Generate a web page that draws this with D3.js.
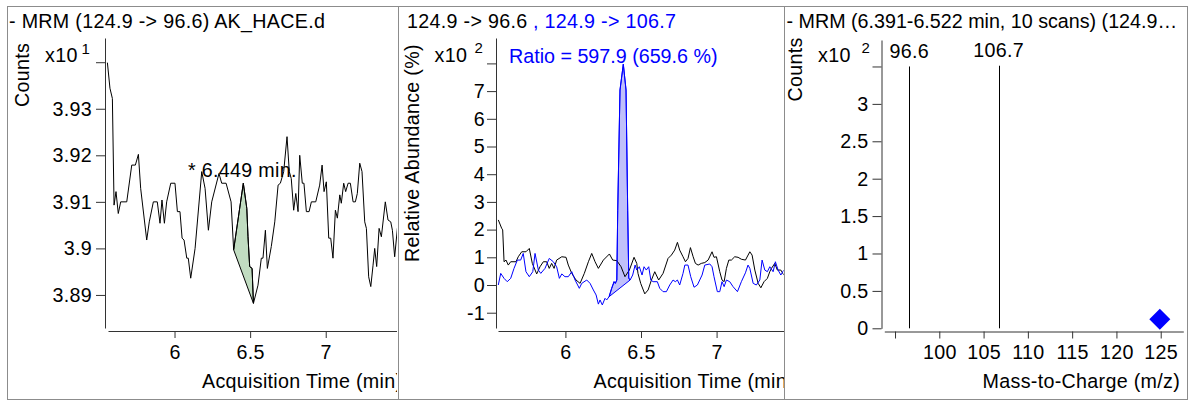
<!DOCTYPE html>
<html><head><meta charset="utf-8">
<script src="https://cdn.jsdelivr.net/npm/d3@7"></script>
<style>
body{margin:0;background:#fff;}
svg text{font-family:"Liberation Sans",Arial,sans-serif;font-size:19.7px;fill:#000;letter-spacing:0.3px;}
svg text.nols{letter-spacing:0;}
</style></head>
<body><svg id="c" width="1193" height="401"></svg>
<script>
// ---------- DATA ----------
// Panel 1: MRM chromatogram (124.9 -> 96.6), counts x10^1
const p1Time = [5.556,5.573,5.589,5.600,5.613,5.628,5.644,5.684,5.717,5.741,5.761,5.776,5.816,5.833,5.860,5.886,5.904,5.917,5.933,5.948,
  5.975,6.003,6.019,6.036,6.050,6.063,6.081,6.091,6.107,6.136,6.180,6.202,6.224,6.246,6.294,6.312,6.341,6.374,6.391,6.455,
  6.478,6.486,6.497,6.513,6.522,6.552,6.574,6.585,6.601,6.614,6.640,6.663,6.685,6.700,6.722,6.744,6.759,6.772,6.788,6.802,
  6.817,6.828,6.845,6.856,6.872,6.890,6.905,6.934,6.960,6.976,6.989,7.004,7.020,7.033,7.048,7.064,7.077,7.093,7.103,7.119,
  7.132,7.148,7.163,7.181,7.196,7.209,7.225,7.240,7.258,7.269,7.284,7.298,7.313,7.324,7.337,7.353,7.368,7.394,7.412,7.430,
  7.441,7.456,7.474,7.490];
const p1Counts = [3.9399,3.9344,3.9322,3.9093,3.9122,3.9075,3.9100,3.9100,3.9179,3.9179,3.9202,3.9129,3.9018,3.9057,3.9100,3.9100,3.9054,3.9104,3.9054,3.9100,
  3.9140,3.9140,3.9079,3.9079,3.9022,3.9018,3.8979,3.8979,3.8936,3.9000,3.9165,3.9129,3.9039,3.9100,3.9161,3.9140,3.9140,3.9100,3.8997,3.9140,
  3.9086,3.9025,3.8961,3.8957,3.8882,3.8921,3.8979,3.8979,3.9039,3.8957,3.9004,3.9057,3.9136,3.9140,3.9165,3.9240,3.9165,3.9150,3.9082,3.9118,
  3.9079,3.9200,3.9140,3.9140,3.9079,3.9079,3.9100,3.9100,3.9136,3.9179,3.9122,3.9143,3.9022,3.9022,3.8979,3.9082,3.9065,3.9115,3.9097,3.9140,
  3.9122,3.9140,3.9140,3.9100,3.9100,3.9118,3.9183,3.9165,3.9057,3.9043,3.8939,3.8918,3.8964,3.9000,3.8961,3.9043,3.9025,3.9100,3.9061,3.9057,
  3.9039,3.8982,3.9043,3.9070];
const p1Peak = [6.391, 6.522];
const p1PeakLabel = "* 6.449 min.";
const p1PeakTime = 6.449;
const p1YTicks = [3.89,3.90,3.91,3.92,3.93,3.94];
const p1YLabels = ["3.89","3.9","3.91","3.92","3.93",""];
const timeTicks = [6,6.5,7];
const timeLabels = ["6","6.5","7"];

// Panel 2: overlay, relative abundance (%) x10^2
const p2QuantTime = [5.556,5.578,5.585,5.594,5.607,5.622,5.638,5.673,5.688,5.711,5.739,5.761,5.781,5.810,5.832,5.854,5.876,5.893,5.909,5.925,
  5.942,5.976,6.004,6.019,6.042,6.070,6.097,6.125,6.152,6.174,6.196,6.218,6.251,6.291,6.313,6.340,6.368,6.394,6.423,6.454,
  6.472,6.480,6.498,6.525,6.547,6.569,6.591,6.617,6.646,6.679,6.701,6.723,6.741,6.756,6.778,6.794,6.811,6.827,6.845,6.860,
  6.878,6.899,6.922,6.944,6.970,6.983,6.999,7.021,7.036,7.050,7.065,7.081,7.098,7.120,7.142,7.164,7.191,7.220,7.235,7.253,
  7.275,7.293,7.314,7.336,7.352,7.363,7.385,7.402,7.425,7.445,7.460];
const p2Quant = [2.35,2.05,1.99,0.84,0.90,0.72,0.84,0.84,1.02,1.20,1.20,1.32,0.78,0.40,0.66,0.84,0.84,0.60,0.78,0.60,
  0.90,1.02,1.00,0.72,0.42,0.18,0.06,0.42,0.84,1.14,0.84,0.60,0.90,1.12,0.90,0.88,0.66,0.30,0.54,1.00,
  0.78,0.42,0.06,-0.32,-0.18,0.18,0.48,0.18,0.42,0.96,1.08,1.26,1.54,1.26,1.02,0.84,0.96,1.35,1.02,0.78,
  0.72,0.78,0.81,0.90,1.20,1.00,1.02,0.48,0.18,0.12,0.60,0.90,0.90,1.02,1.00,0.93,0.90,1.20,1.08,0.54,
  0.06,-0.10,0.12,0.24,0.48,0.60,0.78,0.54,0.54,0.36,0.30];
const p2QualTime = [5.556,5.572,5.594,5.615,5.638,5.660,5.682,5.704,5.721,5.739,5.761,5.784,5.799,5.821,5.837,5.865,5.893,5.920,5.942,5.960,
  5.976,5.997,6.019,6.042,6.064,6.092,6.108,6.141,6.163,6.185,6.203,6.218,6.229,6.244,6.262,6.273,6.289,6.306,6.322,6.330,
  6.340,6.346,6.361,6.383,6.401,6.412,6.419,6.428,6.445,6.461,6.472,6.489,6.507,6.520,6.535,6.551,6.565,6.580,6.608,6.624,
  6.646,6.668,6.690,6.712,6.727,6.741,6.756,6.778,6.790,6.811,6.829,6.851,6.873,6.904,6.922,6.955,6.970,6.983,7.005,7.021,
  7.036,7.050,7.065,7.087,7.109,7.138,7.164,7.191,7.208,7.220,7.242,7.263,7.286,7.301,7.319,7.336,7.352,7.374,7.389,7.407,
  7.425,7.445,7.460];
const p2Qual = [0.00,0.42,0.24,0.12,0.24,0.60,0.90,0.90,1.14,0.48,0.30,0.48,1.14,0.54,0.42,0.60,0.96,0.84,0.66,0.24,
  0.40,0.30,0.30,0.48,0.18,-0.12,0.06,0.18,0.06,-0.18,-0.36,-0.69,-0.54,-0.72,-0.48,-0.54,-0.42,-0.12,0.12,0.06,
  0.18,2.70,7.04,7.97,7.04,2.70,0.25,0.18,0.36,0.72,0.54,0.66,0.36,0.66,0.54,0.66,0.18,0.12,0.12,-0.12,
  -0.24,-0.24,0.00,0.18,0.12,0.18,0.00,0.42,0.72,0.72,0.30,-0.08,0.00,0.36,0.72,0.76,0.66,0.30,-0.24,-0.24,
  0.12,-0.06,0.18,0.12,-0.06,-0.24,0.12,0.44,0.72,0.60,0.06,0.00,0.18,0.90,0.54,0.48,0.66,0.48,0.84,0.54,
  0.36,0.54,0.45];
const p2Peak = [6.289, 6.428];
const p2RatioLabel = "Ratio = 597.9 (659.6 %)";
const p2YTicks = [-1,0,1,2,3,4,5,6,7,8];
const p2YLabels = ["-1","0","1","2","3","4","5","6","7",""];

// Panel 3: MRM spectrum, counts x10^2
const msMz = [96.6, 106.7];
const msCounts = [3.50, 3.51];
const msLabels = ["96.6", "106.7"];
const precursorMz = [124.9];
const precursorCounts = [0.12];
const p3XTicks = [95,100,105,110,115,120,125];
const p3XLabels = ["","100","105","110","115","120","125"];
const p3YTicks = [0,0.5,1,1.5,2,2.5,3,3.5];
const p3YLabels = ["0","0.5","1","1.5","2","2.5","3",""];

// ---------- DRAW ----------
const svg = d3.select("#c");
const defs = svg.append("defs");
const AX = "#333";
const BLUE = "#0000ff";

function clip(id, x, y, w, h){
  defs.append("clipPath").attr("id", id).append("rect").attr("x", x).attr("y", y).attr("width", w).attr("height", h);
  return `url(#${id})`;
}
const boxes = [[7.5,6.5,391,393],[398.5,6.5,386,393],[784.5,6.5,403,393]];
clip("pc0", 8, 7, 389, 392);
clip("pc1", 399, 7, 385, 392);
clip("pc2", 785, 7, 402, 392);

function styleAxis(g){
  g.selectAll("path.domain").attr("stroke", AX);
  g.selectAll(".tick line").attr("stroke", AX);
  g.selectAll(".tick text").attr("fill", "#000");
}
function yAxis(g, y, ax, ticks, labels, pad){
  g.append("g").attr("transform", `translate(${ax},0)`)
    .call(d3.axisLeft(y).tickValues(ticks).tickFormat((d,i)=>labels[i]).tickSize(9).tickSizeOuter(0).tickPadding(pad))
    .call(styleAxis);
}
function xAxis(g, x, ay, ticks, labels){
  g.append("g").attr("transform", `translate(0,${ay})`)
    .call(d3.axisBottom(x).tickValues(ticks).tickFormat((d,i)=>labels[i]).tickSize(7).tickSizeOuter(0).tickPadding(7))
    .call(styleAxis);
}
function mult(g, x, y, sx, sy, sup){
  g.append("text").attr("x", x).attr("y", y).text("x10");
  g.append("text").attr("x", sx).attr("y", sy).style("font-size","15px").text(sup);
}
function peakArea(times, vals, range){
  const pts = [];
  times.forEach((t,i)=>{ if (t >= range[0]-1e-9 && t <= range[1]+1e-9) pts.push([t, vals[i]]); });
  return pts;
}

// ---- Panel 1 ----
{
  const g = svg.append("g").attr("clip-path", "url(#pc0)");
  const x = d3.scaleLinear().domain([5.56, 7.48]).range([108, 398.3]);
  const y = d3.scaleLinear().domain([3.8829, 3.9452]).range([328, 38]);
  const pclip = clip("pl0", 104, 36, 293.5, 296);
  g.append("text").attr("x", 9).attr("y", 28).text("- MRM (124.9 -> 96.6) AK_HACE.d");
  g.append("text").attr("transform", "translate(28.5,107) rotate(-90)").text("Counts");
  mult(g, 45, 61.5, 81.5, 53.5, "1");
  yAxis(g, y, 105, p1YTicks, p1YLabels, 4);
  xAxis(g, x, 331, timeTicks, timeLabels);
  g.append("text").attr("x", 202).attr("y", 388).text("Acquisition Time (min)");
  const pl = g.append("g").attr("clip-path", pclip);
  const area = peakArea(p1Time, p1Counts, p1Peak);
  pl.append("path").attr("d", d3.line().x(d=>x(d[0])).y(d=>y(d[1]))(area) + "Z")
    .attr("fill", "#c1dcc1").attr("stroke", "#000").attr("stroke-width", 1);
  pl.append("path").datum(p1Time.map((t,i)=>[t,p1Counts[i]]))
    .attr("d", d3.line().x(d=>x(d[0])).y(d=>y(d[1])))
    .attr("fill", "none").attr("stroke", "#000").attr("stroke-width", 1);
  g.append("text").attr("x", x(p1PeakTime)).attr("y", 177).attr("text-anchor", "middle").text(p1PeakLabel);
}

// ---- Panel 2 ----
{
  const g = svg.append("g").attr("clip-path", "url(#pc1)");
  const x = d3.scaleLinear().domain([5.554, 7.446]).range([498, 784]);
  const y = d3.scaleLinear().domain([-1.552, 8.917]).range([328, 38]);
  const pclip = clip("pl1", 495, 36, 288.5, 296);
  const t = g.append("text").attr("x", 407).attr("y", 28);
  t.append("tspan").text("124.9 -> 96.6");
  t.append("tspan").attr("x", 533).attr("fill", BLUE).style("fill", BLUE).text(", 124.9 -> 106.7");
  g.append("text").attr("transform", "translate(418.5,262) rotate(-90)").text("Relative Abundance (%)");
  mult(g, 434.5, 61.5, 474.5, 53, "2");
  yAxis(g, y, 496, p2YTicks, p2YLabels, 2);
  xAxis(g, x, 331, timeTicks, timeLabels);
  g.append("text").attr("x", 593.5).attr("y", 388).text("Acquisition Time (min)");
  const pl = g.append("g").attr("clip-path", pclip);
  const area = peakArea(p2QualTime, p2Qual, p2Peak);
  pl.append("path").attr("d", d3.line().x(d=>x(d[0])).y(d=>y(d[1]))(area) + "Z")
    .attr("fill", "#c0c0fa").attr("stroke", BLUE).attr("stroke-width", 1);
  pl.append("path").datum(p2QuantTime.map((t,i)=>[t,p2Quant[i]]))
    .attr("d", d3.line().x(d=>x(d[0])).y(d=>y(d[1])))
    .attr("fill", "none").attr("stroke", "#000").attr("stroke-width", 1);
  pl.append("path").datum(p2QualTime.map((t,i)=>[t,p2Qual[i]]))
    .attr("d", d3.line().x(d=>x(d[0])).y(d=>y(d[1])))
    .attr("fill", "none").attr("stroke", BLUE).attr("stroke-width", 1);
  g.append("text").attr("x", 509).attr("y", 63).attr("class", "nols").style("fill", BLUE).text(p2RatioLabel);
}

// ---- Panel 3 ----
{
  const g = svg.append("g").attr("clip-path", "url(#pc2)");
  const x = d3.scaleLinear().domain([93.79, 127.55]).range([884.3, 1183.3]);
  const y = d3.scaleLinear().domain([0, 3.854]).range([328.3, 40]);
  g.append("text").attr("x", 786.5).attr("y", 28).attr("class", "nols").text("- MRM (6.391-6.522 min, 10 scans) (124.9\u2026");
  g.append("text").attr("transform", "translate(802,101.5) rotate(-90)").text("Counts");
  mult(g, 818, 61.5, 861.5, 53, "2");
  yAxis(g, y, 881.5, p3YTicks, p3YLabels, 4);
  xAxis(g, x, 331.5, p3XTicks, p3XLabels);
  g.append("text").attr("x", 1180).attr("y", 388).attr("text-anchor", "end").text("Mass-to-Charge (m/z)");
  msMz.forEach((m,i)=>{
    g.append("line").attr("x1", Math.round(x(m))+0.5).attr("x2", Math.round(x(m))+0.5)
      .attr("y1", y(0)).attr("y2", y(msCounts[i])).attr("stroke", "#000").attr("stroke-width", 1);
    g.append("text").attr("x", x(m)).attr("y", y(msCounts[i]) - 8.5).attr("text-anchor", "middle").text(msLabels[i]);
  });
  precursorMz.forEach((m,i)=>{
    g.append("path").attr("d", d3.symbol(d3.symbolSquare, 220)())
      .attr("transform", `translate(${x(m)},${y(precursorCounts[i])}) rotate(45)`)
      .attr("fill", BLUE);
  });
}

// panel borders
boxes.forEach(b=>{
  svg.append("rect").attr("x", b[0]).attr("y", b[1]).attr("width", b[2]).attr("height", b[3])
    .attr("fill", "none").attr("stroke", "#8c8c8c").attr("stroke-width", 1);
});
</script>
</body></html>
